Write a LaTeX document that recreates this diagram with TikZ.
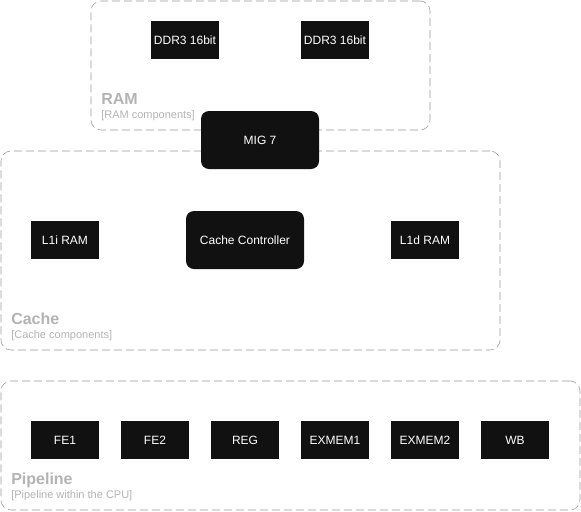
\documentclass[tikz,border=0pt]{standalone}
\usepackage{fontspec}
\setmainfont{Liberation Sans}
\definecolor{boxfill}{HTML}{111111}
\definecolor{framegray}{HTML}{999999}
\definecolor{titlegray}{HTML}{B3B3B3}
\tikzset{
    unit/.style={fill=boxfill,text=white,inner sep=0,minimum width=51pt,minimum height=28.5pt,font=\fontsize{9}{10}\selectfont},
    bigunit/.style={unit,rounded corners=6pt,minimum width=88.5pt,minimum height=43.5pt},
    frame/.style={draw=framegray,dash pattern=on 6pt off 3pt,rounded corners=7.5pt,inner sep=0},
    grouptitle/.style={anchor=base west,inner sep=0,text=titlegray,font=\fontsize{12}{13}\selectfont\bfseries},
    groupnote/.style={anchor=base west,inner sep=0,text=titlegray,font=\fontsize{8.25}{9}\selectfont}
}
\begin{document}
\begin{tikzpicture}[x=0.75pt,y=-0.75pt]
\useasboundingbox (0,0) rectangle (581,511);
% groups
\node[frame,minimum width=254.25pt,minimum height=96.75pt] (ram) at (260.5,65.5){};
\node[frame,minimum width=374.25pt,minimum height=149.25pt] (cache) at (250.5,250.5){};
\node[frame,minimum width=434.25pt,minimum height=96.75pt] (pipe) at (290.5,445.5){};
\node[grouptitle] (ramtitle) at (101,104){RAM};
\node[groupnote] (ramnote) at (101,118){[RAM components]};
\node[grouptitle] (cachetitle) at (11,324){Cache};
\node[groupnote] (cachenote) at (11,338){[Cache components]};
\node[grouptitle] (pipetitle) at (11,484){Pipeline};
\node[groupnote] (pipenote) at (11,498){[Pipeline within the CPU]};
% RAM
\node[unit] (ddra) at (185,40){DDR3 16bit};
\node[unit] (ddrb) at (335,40){DDR3 16bit};
\node[bigunit] (mig) at (260,140){MIG 7};
% cache
\node[unit] (lli) at (65,240){L1i RAM};
\node[bigunit] (ctrl) at (245,240){Cache Controller};
\node[unit] (lld) at (425,240){L1d RAM};
% pipeline stages
\foreach \name/\x in {FE1/65,FE2/155,REG/245,EXMEM1/335,EXMEM2/425,WB/515}
{
    \node[unit] (\name) at (\x,440){\name};
}
\end{tikzpicture}
\end{document}
